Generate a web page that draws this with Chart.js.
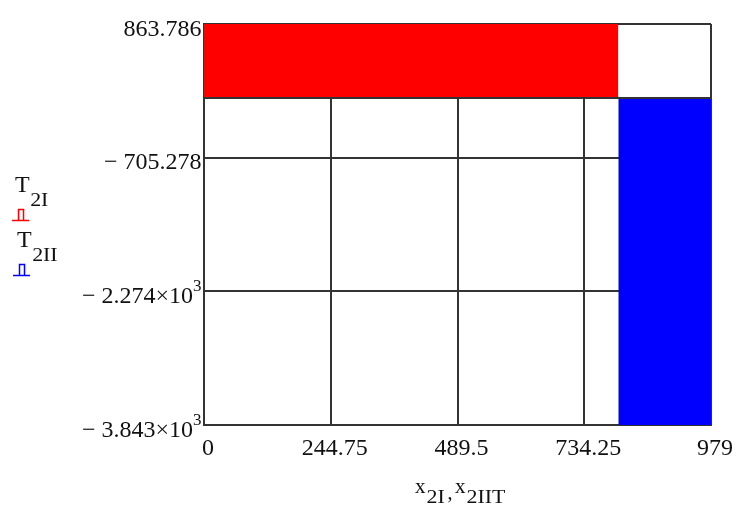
<!DOCTYPE html>
<html>
<head>
<meta charset="utf-8">
<script src="https://cdn.jsdelivr.net/npm/chart.js@4/dist/chart.umd.min.js"></script>
<style>
  html, body { margin: 0; padding: 0; background: #ffffff; }
  #wrap { width: 736px; height: 505px; }
</style>
</head>
<body>
<div id="wrap"><canvas id="plot" width="736" height="505"></canvas></div>
<script>
// Step profile T2I over x2I and T2II over x2IIT
const xT2I = [0, 800];
const T2I = [863.786, 863.786];
const xT2II = [800, 979];
const T2II = [-3843.406, -3843.406];

// Axis ticks and their printed labels
const xTicks = [0, 244.75, 489.5, 734.25, 979];
const xTickLabels = ['0', '244.75', '489.5', '734.25', '979'];
const yTicks = [863.786, -705.278, -2274.342, -3843.406];
const yTickLabels = ['863.786', '\u2212 705.278', '\u2212 2.274\u00d710', '\u2212 3.843\u00d710'];
const yTickExponents = ['', '', '3', '3'];

const SERIF = '"Liberation Serif", "Times New Roman", serif';
const INK = '#111111';
const GRID = '#333333';

const toPoints = (xs, ys) => xs.map((x, i) => ({ x: x, y: ys[i] }));

// Subscripts are set in a smaller, slightly widened face
const SUB_SIZE = 19, SUB_STRETCH = 1.15;
function drawSub(ctx, txt, x, base) {
  ctx.save();
  ctx.font = SUB_SIZE + 'px ' + SERIF;
  ctx.textAlign = 'left';
  ctx.translate(x, base);
  ctx.scale(SUB_STRETCH, 1);
  ctx.fillText(txt, 0, 0);
  const w = ctx.measureText(txt).width * SUB_STRETCH;
  ctx.restore();
  return w;
}

// Text, trace symbols and the zero line, drawn on top of the plot
const annotations = {
  id: 'annotations',
  afterDatasetsDraw(chart) {
    const ctx = chart.ctx;
    const xs = chart.scales.x, ys = chart.scales.y;
    ctx.save();
    const y0 = Math.round(ys.getPixelForValue(0));
    ctx.strokeStyle = GRID;
    ctx.lineWidth = 2;
    ctx.beginPath();
    ctx.moveTo(xs.left, y0);
    ctx.lineTo(xs.right, y0);
    ctx.stroke();
    ctx.restore();
  },
  afterDraw(chart) {
    const ctx = chart.ctx;
    const xs = chart.scales.x, ys = chart.scales.y;
    ctx.save();
    ctx.fillStyle = INK;
    ctx.textBaseline = 'alphabetic';

    // y tick labels, right aligned against the axis
    yTicks.forEach((v, i) => {
      const base = ys.getPixelForValue(v) + 11.5;
      let right = xs.left - 2.5;
      const exp = yTickExponents[i];
      if (exp) {
        ctx.font = '17px ' + SERIF;
        ctx.textAlign = 'right';
        ctx.fillText(exp, right, base - 12);
        right -= ctx.measureText(exp).width;
      }
      ctx.font = '24px ' + SERIF;
      ctx.textAlign = 'right';
      ctx.fillText(yTickLabels[i], right, base);
    });

    // x tick labels
    ctx.font = '24px ' + SERIF;
    ctx.textAlign = 'center';
    xTicks.forEach((v, i) => {
      ctx.fillText(xTickLabels[i], xs.getPixelForValue(v) + 4, 455);
    });

    // trace names with their symbols
    ctx.textAlign = 'left';
    const traceName = (x, base, sub) => {
      ctx.font = '24px ' + SERIF;
      ctx.fillStyle = INK;
      ctx.fillText('T', x, base);
      const w = ctx.measureText('T').width;
      drawSub(ctx, sub, x + w + 0.5, base + 14);
    };
    const symbol = (x, base, color) => {
      ctx.strokeStyle = color;
      ctx.lineWidth = 1.5;
      ctx.beginPath();
      ctx.moveTo(x, base);
      ctx.lineTo(x + 17, base);
      ctx.moveTo(x + 6.5, base);
      ctx.lineTo(x + 6.5, base - 11);
      ctx.lineTo(x + 11.5, base - 11);
      ctx.lineTo(x + 11.5, base);
      ctx.stroke();
    };
    traceName(15, 192, '2I');
    symbol(12, 220.5, chart.data.datasets[0].backgroundColor);
    traceName(17, 247, '2II');
    symbol(13, 275.5, chart.data.datasets[1].backgroundColor);

    // x axis title
    ctx.fillStyle = INK;
    ctx.font = '21px ' + SERIF;
    ctx.fillText('x', 415, 493);
    drawSub(ctx, '2I', 426.5, 503);
    ctx.font = '20px ' + SERIF;
    ctx.fillText(',', 447.5, 499);
    ctx.font = '21px ' + SERIF;
    ctx.fillText('x', 455, 493);
    drawSub(ctx, '2IIT', 466.5, 503);
    ctx.restore();
  }
};

new Chart(document.getElementById('plot'), {
  type: 'line',
  data: {
    datasets: [
      {
        label: 'T2I',
        data: toPoints(xT2I, T2I),
        backgroundColor: '#ff0000',
        borderColor: '#ff0000',
        borderWidth: 0,
        pointRadius: 0,
        fill: 'origin'
      },
      {
        label: 'T2II',
        data: toPoints(xT2II, T2II),
        backgroundColor: '#0000ff',
        borderColor: '#0000ff',
        borderWidth: 0,
        pointRadius: 0,
        fill: 'origin'
      }
    ]
  },
  options: {
    responsive: false,
    animation: false,
    devicePixelRatio: 1,
    layout: { padding: { left: 0, right: 25, top: 24, bottom: 0 } },
    plugins: {
      legend: { display: false },
      tooltip: { enabled: false },
      filler: { propagate: false }
    },
    scales: {
      x: {
        type: 'linear',
        min: xTicks[0],
        max: xTicks[xTicks.length - 1],
        afterBuildTicks: (s) => { s.ticks = xTicks.map(v => ({ value: v })); },
        afterFit: (s) => { s.height = 80; },
        ticks: { display: false },
        grid: { color: GRID, lineWidth: 2, drawTicks: false },
        border: { color: GRID, width: 2 }
      },
      y: {
        type: 'linear',
        min: yTicks[yTicks.length - 1],
        max: yTicks[0],
        afterBuildTicks: (s) => { s.ticks = yTicks.map(v => ({ value: v })); },
        afterFit: (s) => { s.width = 204; },
        ticks: { display: false },
        grid: { color: GRID, lineWidth: 2, drawTicks: false },
        border: { color: GRID, width: 2 }
      }
    }
  },
  plugins: [annotations]
});
</script>
</body>
</html>
